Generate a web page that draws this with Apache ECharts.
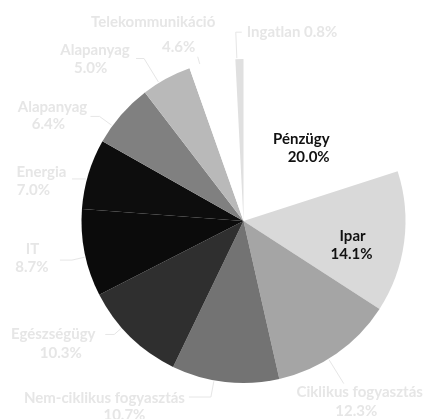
<!DOCTYPE html>
<html>
<head>
<meta charset="utf-8">
<script src="https://cdn.jsdelivr.net/npm/echarts@6/dist/echarts.min.js"></script>
<style>
  html, body { margin: 0; padding: 0; background: #fff; }
  #chart { width: 423px; height: 419px; }
</style>
</head>
<body>
<div id="chart"></div>
<script>
// Sector weights (%), clockwise from twelve o'clock
const sectors = ['Pénzügy', 'Ipar', 'Ciklikus fogyasztás', 'Nem-ciklikus fogyasztás',
  'Egészségügy', 'IT', 'Energia', 'Alapanyag', 'Alapanyag', 'Telekommunikáció', 'Ingatlan'];
const weights = [20.0, 14.1, 12.3, 10.7, 10.3, 8.7, 7.0, 6.4, 5.0, 4.6, 0.8];
const shades = ['#ffffff', '#d9d9d9', '#a5a5a5', '#737373', '#2f2f2f', '#0b0b0b',
  '#0d0d0d', '#808080', '#b9b9b9', '#ffffff', '#e0e0e0'];

// Pie geometry
const CX = 243.5, CY = 221, R = 162;

// Label guides.
// Outside labels: da = angular nudge of the guide (deg), run = radial run past the rim,
// h = horizontal run, side = its direction, dx/dy = text block offset from the guide end,
// shift = offset of the value line against the name line, gap = distance between the two lines.
// Inside labels: r = distance from the centre along the mid angle, plus dx/dy.
const guides = [
  { inside: true, r: 92, dx: 32, dy: -16, align: 'right', va: 'top', shift: 0, gap: 18 },
  { inside: true, r: 110, dx: 0, dy: -8, align: 'center', va: 'top', shift: -1, gap: 18 },
  { da: 3.3, run: 29, h: 0, side: 0, dx: 16, dy: 0, align: 'center', va: 'top', shift: -3.5, gap: 19 },
  { da: 4, run: 17, h: 22, side: -1, dx: -84.5, dy: -8, align: 'center', va: 'top', shift: 20, gap: 17 },
  { da: 4.4, run: 10, h: 9, side: -1, dx: -52, dy: -9, align: 'center', va: 'top', shift: 7.5, gap: 19 },
  { da: -1.4, run: 14, h: 12, side: -1, dx: -27.5, dy: -20, align: 'center', va: 'top', shift: -0.5, gap: 18 },
  { da: -1.9, run: 1, h: 14, side: -1, dx: -30.6, dy: -16, align: 'center', va: 'top', shift: -8, gap: 18 },
  { da: -5, run: 16, h: 9, side: -1, dx: -38, dy: -18.4, align: 'center', va: 'top', shift: -4, gap: 17 },
  { da: -3, run: 28.5, h: 8, side: -1, dx: -41, dy: -17.4, align: 'center', va: 'top', shift: -4.5, gap: 18 },
  { da: -4.4, run: 8.5, h: 0, side: 0, dx: -44.6, dy: -43.8, align: 'center', va: 'top', shift: 25.5, gap: 25 },
  { da: -0.9, run: 27, h: 6, side: 1, dx: 5, dy: 0, align: 'left', va: 'middle', single: true }
];

const total = weights.reduce((s, v) => s + v, 0);
function midAngle(i) {
  let acc = 0;
  for (let k = 0; k < i; k++) acc += weights[k];
  return (acc + weights[i] / 2) / total * Math.PI * 2;
}

const FONT = { fontFamily: 'Lato', fontWeight: 'bold', fontSize: 15 };
const greyText = '#e6e6e6';

const data = sectors.map((name, i) => {
  const g = guides[i];
  const color = g.inside ? '#111111' : greyText;
  const pct = weights[i].toFixed(1) + '%';
  let label;
  if (g.single) {
    label = { formatter: name + ' ' + pct, color: color, lineHeight: 18 };
  } else {
    const s = g.shift * 2;
    label = {
      formatter: '{n|' + name + '}\n{v|' + pct + '}',
      color: color,
      rich: {
        n: Object.assign({ color: color, lineHeight: 18 }, FONT),
        v: Object.assign({
          color: color,
          lineHeight: 2 * (g.gap - 9),
          padding: s >= 0 ? [0, 0, 0, s] : [0, -s, 0, 0]
        }, FONT)
      }
    };
  }
  return {
    name: name,
    value: weights[i],
    itemStyle: { color: shades[i] },
    label: label,
    labelLine: { show: !g.inside }
  };
});

const chart = echarts.init(document.getElementById('chart'), null, { renderer: 'canvas' });
chart.setOption({
  backgroundColor: '#fff',
  animation: false,
  series: [{
    type: 'pie',
    center: [CX, CY],
    radius: [0, R],
    startAngle: 90,
    clockwise: true,
    avoidLabelOverlap: false,
    itemStyle: { borderWidth: 0 },
    emphasis: { disabled: true },
    label: Object.assign({ show: true, position: 'outside' }, FONT),
    labelLine: {
      show: true,
      lineStyle: { color: greyText, width: 1 }
    },
    labelLayout: function (p) {
      const i = p.dataIndex;
      const g = guides[i];
      if (g.inside) {
        const a = midAngle(i);
        return {
          x: CX + Math.sin(a) * g.r + g.dx,
          y: CY - Math.cos(a) * g.r + g.dy,
          align: g.align,
          verticalAlign: g.va
        };
      }
      const a = midAngle(i) + g.da * Math.PI / 180;
      const ux = Math.sin(a), uy = -Math.cos(a);
      const p0 = [CX + ux * (R + 1), CY + uy * (R + 1)];
      const p1 = [CX + ux * (R + g.run), CY + uy * (R + g.run)];
      const p2 = [p1[0] + g.side * g.h, p1[1]];
      return {
        x: p2[0] + g.dx,
        y: p2[1] + g.dy,
        align: g.align,
        verticalAlign: g.va,
        labelLinePoints: [p0, p1, p2]
      };
    },
    data: data
  }]
});
</script>
</body>
</html>
